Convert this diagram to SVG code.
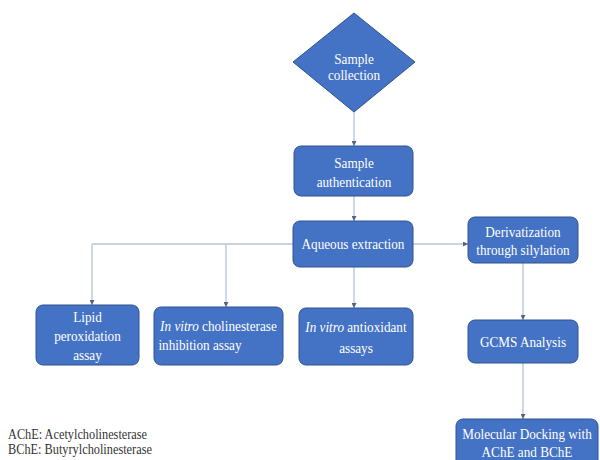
<svg xmlns="http://www.w3.org/2000/svg" width="600" height="460" viewBox="0 0 600 460">
<defs>
<style>
.box{fill:#4472C4;stroke:#2F528F;stroke-width:1}
.t{font-family:"Liberation Serif","Times New Roman",serif;font-size:15px;fill:#fff;text-anchor:middle;transform-box:fill-box;transform-origin:center;transform:scaleX(0.88)}
.leg{font-family:"Liberation Serif","Times New Roman",serif;font-size:14px;fill:#333;transform-box:fill-box;transform-origin:0 0;transform:scaleX(0.88)}
.c{fill:none;stroke:#B9C3D6;stroke-width:1.3}
.i{font-style:italic}
</style>
<marker id="ah" viewBox="0 0 6 6" refX="6" refY="3" markerWidth="5" markerHeight="5" orient="auto" markerUnits="userSpaceOnUse">
<path d="M0,0L6,3L0,6z" fill="#56657F"/>
</marker>
</defs>
<rect width="600" height="460" fill="#fff"/>
<g id="connectors">
<path class="c" d="M354,112V146" marker-end="url(#ah)"/>
<path class="c" d="M354,196V221" marker-end="url(#ah)"/>
<path class="c" d="M92,244H293"/>
<path class="c" d="M92,244V305" marker-end="url(#ah)"/>
<path class="c" d="M226,244V307" marker-end="url(#ah)"/>
<path class="c" d="M354,267V308" marker-end="url(#ah)"/>
<path class="c" d="M413,244H468" marker-end="url(#ah)"/>
<path class="c" d="M523,263V320" marker-end="url(#ah)"/>
<path class="c" d="M523,363V419" marker-end="url(#ah)"/>
</g>
<g id="sample-collection">
<path class="box" d="M354,13L415,62L354,112L293,62z"/>
<text class="t" x="354" y="64">Sample</text>
<text class="t" x="354" y="80">collection</text>
</g>
<g id="sample-authentication">
<rect class="box" x="294" y="146" width="119" height="50" rx="7"/>
<text class="t" x="354" y="168">Sample</text>
<text class="t" x="354" y="187">authentication</text>
</g>
<g id="aqueous-extraction">
<rect class="box" x="293" y="221" width="120" height="46" rx="7"/>
<text class="t" x="353" y="249">Aqueous extraction</text>
</g>
<g id="lipid-peroxidation">
<rect class="box" x="36" y="305" width="103" height="60" rx="7"/>
<text class="t" x="87.5" y="322">Lipid</text>
<text class="t" x="87.5" y="341">peroxidation</text>
<text class="t" x="87.5" y="360">assay</text>
</g>
<g id="cholinesterase-inhibition">
<rect class="box" x="154" y="307" width="129" height="58" rx="7"/>
<text class="t" x="218.5" y="331"><tspan class="i">In vitro</tspan> cholinesterase</text>
<text class="t" x="200" y="350">inhibition assay</text>
</g>
<g id="antioxidant-assays">
<rect class="box" x="299" y="308" width="114" height="57" rx="7"/>
<text class="t" x="356" y="332"><tspan class="i">In vitro</tspan> antioxidant</text>
<text class="t" x="356" y="353">assays</text>
</g>
<g id="derivatization">
<rect class="box" x="468" y="217" width="110" height="46" rx="7"/>
<text class="t" x="523" y="237">Derivatization</text>
<text class="t" x="523" y="255">through silylation</text>
</g>
<g id="gcms-analysis">
<rect class="box" x="468" y="320" width="110" height="43" rx="7"/>
<text class="t" x="523" y="347">GCMS Analysis</text>
</g>
<g id="molecular-docking">
<rect class="box" x="456" y="419" width="142" height="52" rx="7"/>
<text class="t" x="527" y="439">Molecular Docking with</text>
<text class="t" x="527" y="457">AChE and BChE</text>
</g>
<g id="legend">
<text class="leg" x="8" y="439">AChE: Acetylcholinesterase</text>
<text class="leg" x="8" y="454">BChE: Butyrylcholinesterase</text>
</g>
</svg>
